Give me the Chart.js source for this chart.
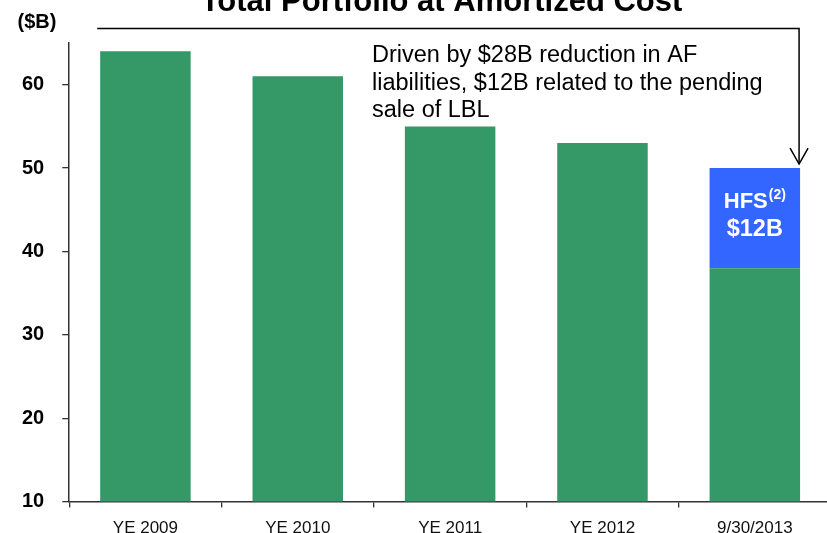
<!DOCTYPE html>
<html>
<head>
<meta charset="utf-8">
<script src="https://cdn.jsdelivr.net/npm/chart.js@4/dist/chart.umd.min.js"></script>
<style>
  html, body { margin: 0; padding: 0; overflow: hidden; background: #fff; }
  #wrap { position: absolute; left: 0; top: 0; width: 831px; height: 550px; }
</style>
</head>
<body>
<div id="wrap"><canvas id="chart"></canvas></div>
<script>
const categories = ['YE 2009', 'YE 2010', 'YE 2011', 'YE 2012', '9/30/2013']
const amortizedCost = [64, 61, 55, 53, 38]
const heldForSale = [0, 0, 0, 0, 12]
const yTicks = [10, 20, 30, 40, 50, 60]

const FONT = '"Liberation Sans", Arial, sans-serif'
const green = '#349966'
const blue = '#3366ff'
const axisColor = '#333'

const overlay = {
  id: 'overlay',
  afterDatasetsDraw(chart) {
    const ctx = chart.ctx
    const bar = chart.getDatasetMeta(1).data[4]
    ctx.save()
    ctx.fillStyle = '#fff'
    ctx.textBaseline = 'alphabetic'
    // HFS(2) with superscript
    ctx.font = 'bold 22px ' + FONT
    const w1 = ctx.measureText('HFS').width
    ctx.font = 'bold 14px ' + FONT
    const w2 = ctx.measureText('(2)').width
    const startX = bar.x - (w1 + w2 + 1) / 2
    ctx.textAlign = 'left'
    ctx.font = 'bold 22px ' + FONT
    ctx.fillText('HFS', startX, bar.y + 40)
    ctx.font = 'bold 14px ' + FONT
    ctx.fillText('(2)', startX + w1 + 1, bar.y + 31)
    ctx.textAlign = 'center'
    ctx.font = 'bold 23.5px ' + FONT
    ctx.fillText('$12B', bar.x, bar.y + 68)
    ctx.restore()
  },
  afterDraw(chart) {
    const ctx = chart.ctx
    const first = chart.getDatasetMeta(0).data[0]
    const last = chart.getDatasetMeta(1).data[4]
    ctx.save()
    // title (cut off at the top like the source)
    ctx.fillStyle = '#000'
    ctx.textAlign = 'center'
    ctx.textBaseline = 'alphabetic'
    ctx.font = 'bold 31px ' + FONT
    ctx.fillText('Total Portfolio at Amortized Cost', 441.5, 11)
    // unit label
    ctx.font = 'bold 20px ' + FONT
    ctx.fillText('($B)', 37, 28)
    // bracket with arrow
    const left = first.x - first.width / 2 - 3
    const ax = last.x + last.width / 2 - 1
    const tipY = last.y - 4
    ctx.strokeStyle = '#000'
    ctx.lineWidth = 1.5
    ctx.beginPath()
    ctx.moveTo(left, 28.5)
    ctx.lineTo(ax, 28.5)
    ctx.lineTo(ax, tipY)
    ctx.stroke()
    ctx.beginPath()
    ctx.moveTo(ax - 9, tipY - 16)
    ctx.lineTo(ax, tipY)
    ctx.lineTo(ax + 9, tipY - 16)
    ctx.stroke()
    // annotation
    ctx.textAlign = 'left'
    ctx.font = '23.5px ' + FONT
    ctx.fillText('Driven by $28B reduction in AF', 372, 62)
    ctx.fillText('liabilities, $12B related to the pending', 372, 89.5)
    ctx.fillText('sale of LBL', 372, 117)
    ctx.restore()
  }
}

new Chart(document.getElementById('chart'), {
  type: 'bar',
  data: {
    labels: categories,
    datasets: [
      {
        label: 'Amortized cost',
        data: amortizedCost,
        backgroundColor: green,
        stack: 'total',
        categoryPercentage: 1,
        barPercentage: 0.594
      },
      {
        label: 'HFS',
        data: heldForSale,
        backgroundColor: blue,
        stack: 'total',
        categoryPercentage: 1,
        barPercentage: 0.594
      }
    ]
  },
  options: {
    responsive: true,
    maintainAspectRatio: false,
    animation: false,
    layout: { padding: { top: 43, left: 4, right: 0, bottom: 0 } },
    plugins: {
      legend: { display: false },
      tooltip: { enabled: false },
      title: { display: false }
    },
    scales: {
      x: {
        stacked: true,
        grid: { drawOnChartArea: false, offset: true, tickLength: 6, color: axisColor, lineWidth: 1.3 },
        border: { color: axisColor, width: 1.5 },
        ticks: { color: '#111', font: { family: FONT, size: 17 }, padding: 11, maxRotation: 0 }
      },
      y: {
        stacked: true,
        min: 10,
        max: 65,
        afterBuildTicks: scale => { scale.ticks = yTicks.map(v => ({ value: v })) },
        grid: { drawOnChartArea: false, tickLength: 7, color: axisColor, lineWidth: 1.3 },
        border: { color: axisColor, width: 1.5 },
        ticks: { color: '#000', font: { family: FONT, size: 20, weight: 'bold' }, padding: 18 }
      }
    }
  },
  plugins: [overlay]
})
</script>
</body>
</html>
